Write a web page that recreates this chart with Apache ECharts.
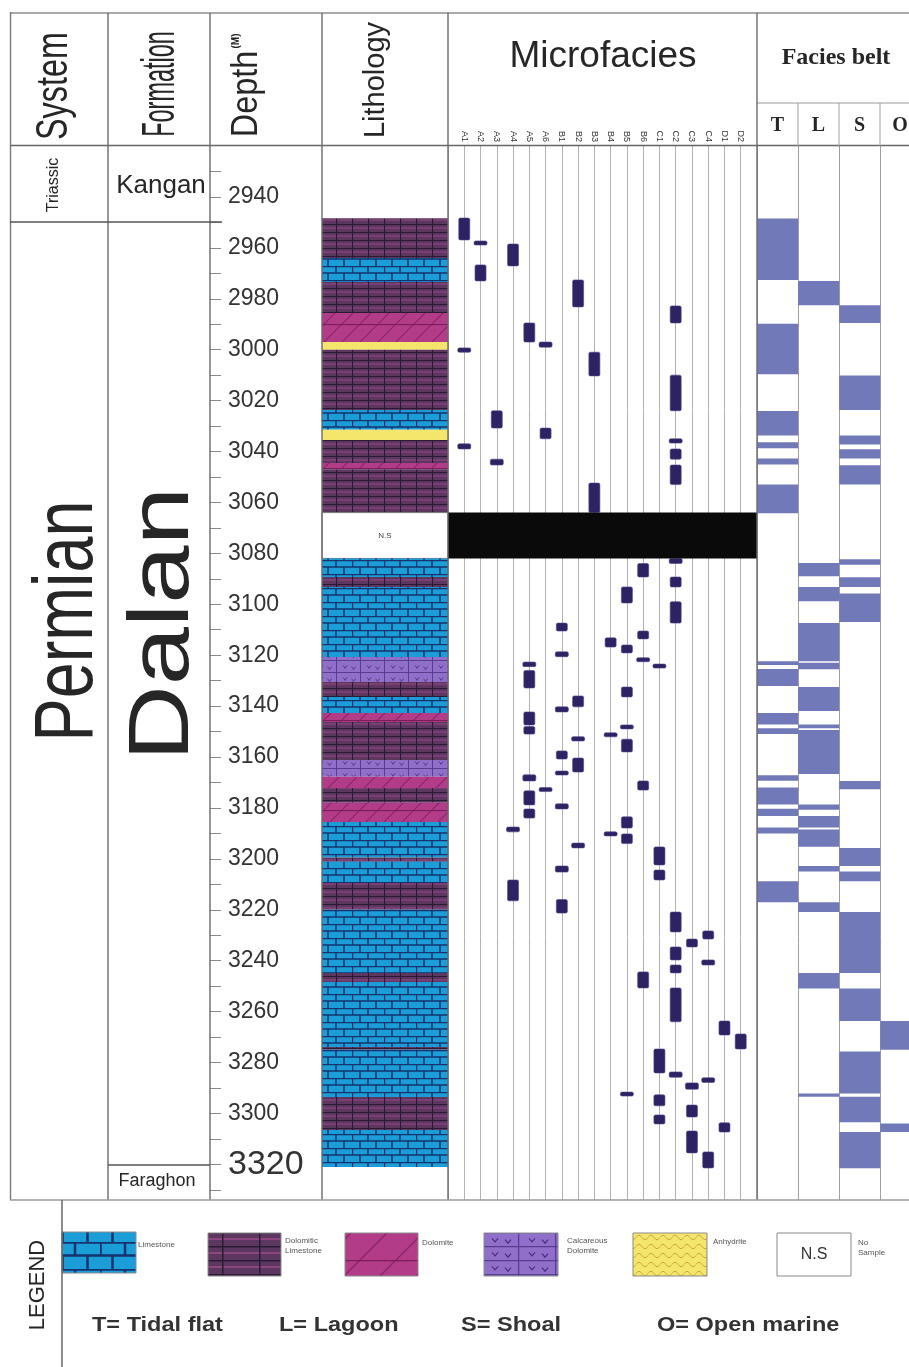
<!DOCTYPE html>
<html>
<head>
<meta charset="utf-8">
<script src="https://cdn.jsdelivr.net/npm/echarts@6.0.0/dist/echarts.min.js"></script>
<style>
html, body { margin: 0; padding: 0; background: #fff; }
#chart { width: 909px; height: 1367px; }
</style>
</head>
<body>
<div id="chart"></div>
<script>
// depth range of the column (m)
const depthMin = 2920, depthMax = 3334;

// depth labels shown on the depth column
const depthLabels = [2940, 2960, 2980, 3000, 3020, 3040, 3060, 3080, 3100, 3120, 3140, 3160, 3180,
  3200, 3220, 3240, 3260, 3280, 3300, 3320];

// lithology intervals: top, base, type
const lithTop  = [2948.4, 2964, 2973.4, 2985.6, 2997, 3000, 3023.7, 3031.5, 3035.5, 3044.5, 3047, 3064,
  3082, 3089.3, 3093.2, 3120.7, 3130.5, 3136.4, 3142.7, 3146.2, 3161.2, 3167.8, 3172.2, 3178, 3185.5,
  3199.5, 3201, 3209.5, 3220, 3244.8, 3248.4, 3273.9, 3275, 3293.5, 3306.5];
const lithBase = [2964, 2973.4, 2985.6, 2997, 3000, 3023.7, 3031.5, 3035.5, 3044.5, 3047, 3064, 3082,
  3089.3, 3093.2, 3120.7, 3130.5, 3136.4, 3142.7, 3146.2, 3161.2, 3167.8, 3172.2, 3178, 3185.5, 3199.5,
  3201, 3209.5, 3220, 3244.8, 3248.4, 3273.9, 3275, 3293.5, 3306.5, 3321];
const lithType = ['DL', 'LS', 'DL', 'DO', 'AN', 'DL', 'LS', 'AN', 'DL', 'DO', 'DL', 'NS',
  'LS', 'DL', 'LS', 'CD', 'DL', 'LS', 'DO', 'DL', 'CD', 'DO', 'DL', 'DO', 'LS',
  'DL', 'LS', 'DL', 'LS', 'DL', 'LS', 'DL', 'LS', 'DL', 'LS'];
const lithKeys = ['LS', 'DL', 'DO', 'CD', 'AN', 'NS'];

// microfacies codes (one vertical line each)
const mfCodes = ['A1', 'A2', 'A3', 'A4', 'A5', 'A6', 'B1', 'B2', 'B3', 'B4', 'B5', 'B6',
  'C1', 'C2', 'C3', 'C4', 'D1', 'D2'];

// microfacies occurrences: column index, top, base
const mfMarks = [
  [0, 2948.3, 2956.9], [1, 2957.3, 2958.9], [1, 2966.7, 2973], [3, 2958.5, 2967.1],
  [7, 2972.6, 2983.2], [13, 2982.8, 2989.5], [4, 2989.5, 2997], [5, 2997, 2999],
  [0, 2999.3, 3001], [8, 3001, 3010.3], [13, 3010, 3024], [2, 3024, 3030.8],
  [5, 3030.8, 3035], [0, 3037, 3039], [13, 3035, 3036.7], [13, 3039, 3043],
  [2, 3043, 3045.3], [13, 3045.3, 3053], [8, 3052.4, 3064],
  [13, 3082, 3084], [11, 3084, 3089.3], [13, 3089.3, 3093.2], [10, 3093.2, 3099.5],
  [13, 3099, 3107.4], [6, 3107.4, 3110.5], [11, 3110.5, 3113.6], [9, 3113.2, 3116.8],
  [10, 3116, 3119.1], [6, 3118.7, 3120.6], [11, 3121, 3122.5], [12, 3123.5, 3125],
  [4, 3122.7, 3124.5], [4, 3126, 3132.9], [10, 3132.5, 3136.4], [7, 3136, 3140.3],
  [6, 3140.3, 3142.3], [4, 3142.3, 3147.4], [4, 3148, 3151], [10, 3147.4, 3148.6],
  [9, 3150.5, 3152], [7, 3152, 3153.7], [10, 3153, 3158], [6, 3157.6, 3160.8],
  [7, 3160.4, 3165.9], [6, 3165.5, 3167], [4, 3167, 3169.4], [11, 3169.4, 3173],
  [5, 3172, 3173.3], [4, 3173.3, 3178.8], [4, 3180.4, 3184], [6, 3178.4, 3180.4],
  [10, 3183.5, 3187.9], [3, 3187.5, 3189.4], [9, 3189.4, 3191], [10, 3190.2, 3194],
  [7, 3193.8, 3195.7], [12, 3195.3, 3202.4], [6, 3202.8, 3205.2], [12, 3204.4, 3208.3],
  [3, 3208.3, 3216.5], [6, 3216, 3221.3], [13, 3220.9, 3228.7], [15, 3228.3, 3231.5],
  [14, 3231.5, 3234.6], [13, 3234.6, 3239.7], [15, 3239.7, 3241.7], [13, 3241.7, 3244.8],
  [11, 3244.4, 3250.7], [13, 3250.7, 3264], [16, 3263.7, 3269.2], [17, 3268.8, 3274.7],
  [12, 3274.7, 3284.1], [13, 3283.7, 3285.8], [15, 3286, 3287.8], [14, 3288, 3290.5],
  [10, 3291.6, 3293.1], [12, 3292.7, 3297], [14, 3296.7, 3301.4], [12, 3300.6, 3304.1],
  [16, 3303.7, 3307.3], [14, 3306.9, 3315.5], [15, 3315.1, 3321.4]
];

// not sampled interval
const noSample = [3064, 3082];

// facies belts
const beltCodes = ['T', 'L', 'S', 'O'];
const faciesT = [[2948.5, 2972.6], [2989.8, 3009.7], [3024.1, 3033.7], [3036.4, 3038.7], [3042.7, 3045.1],
  [3053, 3064.3], [3122.4, 3123.9], [3125.4, 3132.1], [3142.7, 3147.2], [3148.7, 3151], [3167.2, 3169.3],
  [3172, 3178.7], [3180.3, 3183.2], [3187.7, 3190], [3208.8, 3217]];
const faciesL = [[2973, 2982.6], [3083.8, 3089], [3093.2, 3098.8], [3107.4, 3122.4], [3123, 3125.5],
  [3132.5, 3141.9], [3147.2, 3148.7], [3149.4, 3166.7], [3178.7, 3180.7], [3183.2, 3187.7],
  [3188.5, 3195.2], [3202.8, 3205], [3217, 3220.9], [3244.8, 3250.9], [3292.2, 3293.4]];
const faciesS = [[2982.6, 2989.5], [3010.1, 3023.7], [3033.7, 3037.2], [3039.1, 3042.7], [3045.4, 3053],
  [3082.3, 3084.5], [3089.4, 3093.2], [3095.8, 3107], [3169.4, 3172.7], [3195.7, 3202.8], [3205, 3208.8],
  [3220.9, 3244.8], [3250.9, 3263.7], [3275.7, 3292.2], [3293.4, 3303.5], [3307.3, 3321.5]];
const faciesO = [[3263.7, 3275], [3304, 3307.3]];

// ---- fill patterns ----
function makeTile(w, h, draw) {
  const c = document.createElement('canvas');
  c.width = w; c.height = h;
  draw(c.getContext('2d'), w, h);
  return { image: c, repeat: 'repeat' };
}
function limestone(w, h, lw) {
  return makeTile(w, h, (g) => {
    g.fillStyle = '#1b9dd7'; g.fillRect(0, 0, w, h);
    g.strokeStyle = '#15336f'; g.lineWidth = lw;
    g.beginPath();
    g.moveTo(0, 0.5); g.lineTo(w, 0.5);
    g.moveTo(0, h / 2); g.lineTo(w, h / 2);
    g.moveTo(0.5, 0); g.lineTo(0.5, h / 2);
    g.moveTo(w / 2, 0); g.lineTo(w / 2, h / 2);
    g.moveTo(w / 4, h / 2); g.lineTo(w / 4, h);
    g.moveTo(3 * w / 4, h / 2); g.lineTo(3 * w / 4, h);
    g.stroke();
  });
}
function dolLime(w, h, lw) {
  return makeTile(w, h, (g) => {
    g.fillStyle = '#5c3860'; g.fillRect(0, 0, w, h);
    g.strokeStyle = '#9c4a88'; g.lineWidth = lw * 0.8;
    g.beginPath(); g.moveTo(0, h / 2); g.lineTo(w, h / 2); g.stroke();
    g.strokeStyle = '#2b1935'; g.lineWidth = lw;
    g.beginPath();
    g.moveTo(0, 0.5); g.lineTo(w, 0.5);
    g.moveTo(0.5, 0); g.lineTo(0.5, h);
    g.stroke();
  });
}
function dolomite(w, h, lw) {
  return makeTile(w, h, (g) => {
    g.fillStyle = '#b23c87'; g.fillRect(0, 0, w, h);
    g.strokeStyle = '#8c2669'; g.lineWidth = lw;
    g.beginPath();
    g.moveTo(0, h); g.lineTo(w, 0);
    g.moveTo(-w / 2, h / 2); g.lineTo(w / 2, -h / 2);
    g.moveTo(w / 2, h * 1.5); g.lineTo(w * 1.5, h / 2);
    g.stroke();
    g.strokeStyle = '#7a1d59'; g.lineWidth = lw;
    g.beginPath(); g.moveTo(0, 0.5); g.lineTo(w, 0.5); g.stroke();
  });
}
function calcDol(w, h, lw) {
  return makeTile(w, h, (g) => {
    g.fillStyle = '#8f6fca'; g.fillRect(0, 0, w, h);
    g.strokeStyle = '#583c8e'; g.lineWidth = lw;
    g.beginPath();
    g.moveTo(0, 0.5); g.lineTo(w, 0.5);
    g.moveTo(0.5, 0); g.lineTo(0.5, h);
    g.stroke();
    g.strokeStyle = '#4a2f7e'; g.lineWidth = lw * 0.8;
    g.beginPath();
    g.moveTo(w * 0.3, h * 0.45); g.lineTo(w * 0.38, h * 0.7); g.lineTo(w * 0.46, h * 0.45);
    g.moveTo(w * 0.65, h * 0.55); g.lineTo(w * 0.73, h * 0.8); g.lineTo(w * 0.81, h * 0.55);
    g.stroke();
  });
}
function anhydrite(w, h, lw) {
  return makeTile(w, h, (g) => {
    g.fillStyle = '#f4e56c'; g.fillRect(0, 0, w, h);
    g.strokeStyle = '#c9a83c'; g.lineWidth = lw;
    g.beginPath();
    g.moveTo(0, h / 2);
    g.quadraticCurveTo(w / 4, 0, w / 2, h / 2);
    g.quadraticCurveTo(3 * w / 4, h, w, h / 2);
    g.stroke();
  });
}

const fills = {
  LS: limestone(32, 14, 1.5),
  DL: dolLime(16, 8, 1.2),
  DO: dolomite(18, 18, 1.2),
  CD: calcDol(24, 12, 1),
  AN: '#f4e56c'
};
const legendFills = {
  LS: limestone(50, 27, 2.5),
  DL: dolLime(37, 14, 2),
  DO: dolomite(36, 36, 1.5),
  CD: calcDol(37, 14, 1.5),
  AN: anhydrite(12, 9, 1)
};

// ---- series data built from the arrays ----
const lithData = lithTop.map((t, i) => [t, lithBase[i], lithKeys.indexOf(lithType[i])]);
const beltData = [];
[faciesT, faciesL, faciesS, faciesO].forEach((arr, k) => {
  arr.forEach(d => beltData.push([k, d[0], d[1]]));
});

function renderLith(params, api) {
  const a = api.coord([0, api.value(0)]);
  const b = api.coord([1, api.value(1)]);
  const key = lithKeys[api.value(2)];
  const shape = { x: a[0], y: a[1], width: b[0] - a[0], height: b[1] - a[1] };
  if (key === 'NS') {
    return {
      type: 'group', children: [
        { type: 'rect', shape: shape, style: { fill: '#fff', stroke: '#777', lineWidth: 1 } },
        { type: 'text', x: shape.x + shape.width / 2, y: shape.y + shape.height / 2,
          style: { text: 'N.S', fontSize: 8, fill: '#444', align: 'center', verticalAlign: 'middle' } }
      ]
    };
  }
  return { type: 'rect', shape: shape, style: { fill: fills[key] } };
}

function renderMark(params, api) {
  const p1 = api.coord([api.value(0), api.value(1)]);
  const p2 = api.coord([api.value(0), api.value(2)]);
  const h = Math.max(p2[1] - p1[1], 4);
  const w = h < 7 ? 13 : 11;
  return {
    type: 'rect',
    shape: { x: p1[0] - w / 2, y: p1[1], width: w, height: h, r: 1.5 },
    style: { fill: '#2d2263', stroke: '#4d4488', lineWidth: 0.6 }
  };
}

function renderBand(params, api) {
  const a = api.coord([-1, api.value(0)]);
  const b = api.coord([18, api.value(1)]);
  return { type: 'rect', shape: { x: a[0], y: a[1], width: b[0] - a[0], height: b[1] - a[1] },
    style: { fill: '#0a0a0a' } };
}

function renderBelt(params, api) {
  const a = api.coord([api.value(0), api.value(1)]);
  const b = api.coord([api.value(0) + 1, api.value(2)]);
  return { type: 'rect', shape: { x: a[0], y: a[1], width: b[0] - a[0], height: b[1] - a[1] },
    style: { fill: '#7179b9' } };
}

// ---- frame, headings and legend ----
function line(x1, y1, x2, y2, color, w) {
  return { type: 'line', silent: true, z: 100, shape: { x1: x1, y1: y1, x2: x2, y2: y2 },
    style: { stroke: color || '#6a6a6a', lineWidth: w || 1.4 } };
}
function txt(text, x, y, size, o) {
  o = o || {};
  return {
    type: 'text', silent: true, z: 110, x: x, y: y,
    rotation: o.rot ? Math.PI / 2 : 0, scaleX: o.sx || 1,
    style: {
      text: text, fontSize: size, fontFamily: o.font || 'Liberation Sans',
      fontWeight: o.bold ? 'bold' : 'normal', fill: o.color || '#262626',
      align: o.align || 'center', verticalAlign: o.va || 'middle', lineHeight: o.lh
    }
  };
}
function swatch(x, y, w, h, fill) {
  return { type: 'rect', silent: true, z: 90, shape: { x: x, y: y, width: w, height: h },
    style: { fill: fill, stroke: '#8a8a8a', lineWidth: 1 } };
}

const graphics = [
  line(10, 13, 909, 13, '#8c8c8c', 1.5),
  line(10, 145.5, 909, 145.5, '#666', 1.5),
  line(757, 103, 909, 103, '#9a9a9a', 1),
  line(798, 103, 798, 146, '#a0a0a0', 1),
  line(839, 103, 839, 146, '#a0a0a0', 1),
  line(880, 103, 880, 146, '#a0a0a0', 1),
  line(10.5, 12, 10.5, 1200, '#7a7a7a'),
  line(108, 13, 108, 1200),
  line(210, 13, 210, 1200),
  line(322, 13, 322, 1200),
  line(448, 13, 448, 1200),
  line(757, 13, 757, 1200),
  line(10, 222, 222, 222, '#555'),
  line(108, 1165, 210, 1165, '#555'),
  line(10, 1200, 909, 1200, '#9a9a9a', 1.5),
  line(62, 1200, 62, 1367, '#666', 1.5),

  txt('System', 55, 86, 45, { rot: true, sx: 0.72 }),
  txt('Formation', 161, 84, 46, { rot: true, sx: 0.51 }),
  txt('Depth', 247, 94, 36, { rot: true, sx: 0.9 }),
  txt('(M)', 236, 41, 10, { rot: true, bold: true }),
  txt('Lithology', 376, 80, 29, { rot: true }),
  txt('Microfacies', 603, 57, 37),
  txt('Facies belt', 836, 58, 24, { font: 'Liberation Serif', bold: true }),
  txt(beltCodes[0], 777.5, 126, 20, { font: 'Liberation Serif', bold: true }),
  txt(beltCodes[1], 818.5, 126, 20, { font: 'Liberation Serif', bold: true }),
  txt(beltCodes[2], 859.5, 126, 20, { font: 'Liberation Serif', bold: true }),
  txt(beltCodes[3], 900, 126, 20, { font: 'Liberation Serif', bold: true }),

  txt('Triassic', 54, 185, 16, { rot: true }),
  txt('Permian', 69, 621, 84, { rot: true, sx: 0.77 }),
  txt('Kangan', 161, 186, 26),
  txt('Dalan', 164, 624, 86, { rot: true, sx: 1.22 }),
  txt('Faraghon', 157, 1181, 18),

  txt('LEGEND', 38, 1285, 22, { rot: true }),
  swatch(62, 1232, 74, 41, legendFills.LS),
  swatch(208, 1233, 73, 43, legendFills.DL),
  swatch(345, 1233, 73, 43, legendFills.DO),
  swatch(484, 1233, 74, 43, legendFills.CD),
  swatch(633, 1233, 74, 43, legendFills.AN),
  swatch(777, 1233, 74, 43, '#fff'),
  txt('N.S', 814, 1255, 16, { color: '#333' }),
  txt('Limestone', 138, 1245, 8, { align: 'left', color: '#555' }),
  txt('Dolomitic\nLimestone', 285, 1246, 8, { align: 'left', color: '#555', lh: 10 }),
  txt('Dolomite', 422, 1243, 8, { align: 'left', color: '#555' }),
  txt('Calcareous\nDolomite', 567, 1246, 8, { align: 'left', color: '#555', lh: 10 }),
  txt('Anhydrite', 713, 1242, 8, { align: 'left', color: '#555' }),
  txt('No\nSample', 858, 1248, 8, { align: 'left', color: '#555', lh: 10 }),

  txt('T= Tidal flat', 92, 1325, 21, { align: 'left', bold: true, sx: 1.12, color: '#333' }),
  txt('L= Lagoon', 279, 1325, 21, { align: 'left', bold: true, sx: 1.12, color: '#333' }),
  txt('S= Shoal', 461, 1325, 21, { align: 'left', bold: true, sx: 1.12, color: '#333' }),
  txt('O= Open marine', 657, 1325, 21, { align: 'left', bold: true, sx: 1.12, color: '#333' })
];

// ---- chart ----
const chart = echarts.init(document.getElementById('chart'), null, { renderer: 'canvas' });

const hiddenY = (i) => ({ gridIndex: i, type: 'value', min: depthMin, max: depthMax, inverse: true, show: false });

chart.setOption({
  animation: false,
  backgroundColor: '#fff',
  textStyle: { fontFamily: 'Liberation Sans' },
  grid: [
    { left: 210, top: 146, width: 112, height: 1054 },
    { left: 322, top: 146, width: 126, height: 1054 },
    { left: 448, top: 146, width: 309, height: 1054 },
    { left: 757, top: 146, width: 152, height: 1054 }
  ],
  xAxis: [
    { gridIndex: 0, type: 'value', min: 0, max: 1, show: false },
    { gridIndex: 1, type: 'value', min: 0, max: 1, show: false },
    {
      gridIndex: 2, type: 'value', min: -1, max: 18, interval: 1, position: 'top',
      axisLine: { show: false }, axisTick: { show: false },
      splitLine: { show: true, lineStyle: { color: '#b2b2b2', width: 1 } },
      axisLabel: { rotate: 90, fontSize: 9, margin: 4, color: '#333',
        formatter: (v) => mfCodes[v] || '' }
    },
    {
      // facies belt columns: T, L, S, O (the O column is cut by the page edge)
      gridIndex: 3, type: 'value', min: 0, max: 3.7, interval: 1,
      axisLine: { show: false }, axisTick: { show: false }, axisLabel: { show: false },
      splitLine: { show: true, lineStyle: { color: '#a0a0a0', width: 1 } }
    }
  ],
  yAxis: [
    {
      gridIndex: 0, type: 'value', min: depthMin, max: depthMax, inverse: true, interval: 10,
      axisLine: { show: false },
      axisTick: { show: true, inside: true, length: 11, lineStyle: { color: '#8a8a8a', width: 1 } },
      splitLine: { show: false },
      axisLabel: {
        inside: true, margin: 18, fontSize: 23, color: '#333',
        showMinLabel: false, showMaxLabel: false,
        formatter: (v) => {
          if (depthLabels.indexOf(v) < 0) return '';
          return v === 3320 ? '{big|' + v + '}' : String(v);
        },
        rich: { big: { fontSize: 34, color: '#333' } }
      }
    },
    hiddenY(1), hiddenY(2), hiddenY(3)
  ],
  series: [
    { type: 'custom', name: 'Lithology', xAxisIndex: 1, yAxisIndex: 1, renderItem: renderLith, data: lithData },
    { type: 'custom', name: 'Microfacies', xAxisIndex: 2, yAxisIndex: 2, renderItem: renderMark, data: mfMarks, z: 3 },
    { type: 'custom', name: 'No sample', xAxisIndex: 2, yAxisIndex: 2, renderItem: renderBand, data: [noSample], z: 4 },
    { type: 'custom', name: 'Facies belt', xAxisIndex: 3, yAxisIndex: 3, renderItem: renderBelt, data: beltData, clip: true }
  ],
  graphic: graphics
});
</script>
</body>
</html>
